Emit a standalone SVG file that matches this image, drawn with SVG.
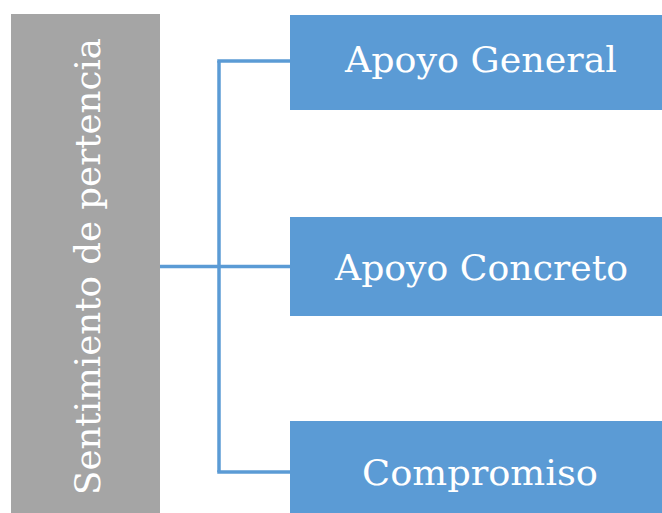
<svg xmlns="http://www.w3.org/2000/svg" width="662" height="513" viewBox="0 0 662 513">
  <style>
    .root { fill: #A5A5A5; }
    .leaf { fill: #5B9BD5; }
    .lbl { fill: #FFFFFF; font-family: "DejaVu Serif", "Liberation Serif", serif; font-size: 36px; text-anchor: middle; }
    .link { fill: none; stroke: #5B9BD5; stroke-width: 3.5; }
  </style>
  <rect width="662" height="513" fill="#FFFFFF"/>

  <g id="connectors">
    <path class="link" d="M160 266.5 H290"/>
    <path class="link" d="M219 61 V472"/>
    <path class="link" d="M217.25 61 H290"/>
    <path class="link" d="M217.25 472 H290"/>
  </g>

  <g id="node-sentimiento">
    <rect class="root" x="11" y="14" width="149" height="510"/>
    <text class="lbl" transform="translate(100 266.5) rotate(-90)" x="0" y="0" textLength="457" lengthAdjust="spacingAndGlyphs">Sentimiento de pertencia</text>
  </g>

  <g id="node-apoyo-general">
    <rect class="leaf" x="290" y="15" width="380" height="95"/>
    <text class="lbl" x="481" y="72" textLength="272" lengthAdjust="spacingAndGlyphs">Apoyo General</text>
  </g>

  <g id="node-apoyo-concreto">
    <rect class="leaf" x="290" y="217" width="380" height="99"/>
    <text class="lbl" x="481.5" y="280" textLength="293" lengthAdjust="spacingAndGlyphs">Apoyo Concreto</text>
  </g>

  <g id="node-compromiso">
    <rect class="leaf" x="290" y="421" width="380" height="100"/>
    <text class="lbl" x="480" y="485" textLength="236" lengthAdjust="spacingAndGlyphs">Compromiso</text>
  </g>
</svg>
